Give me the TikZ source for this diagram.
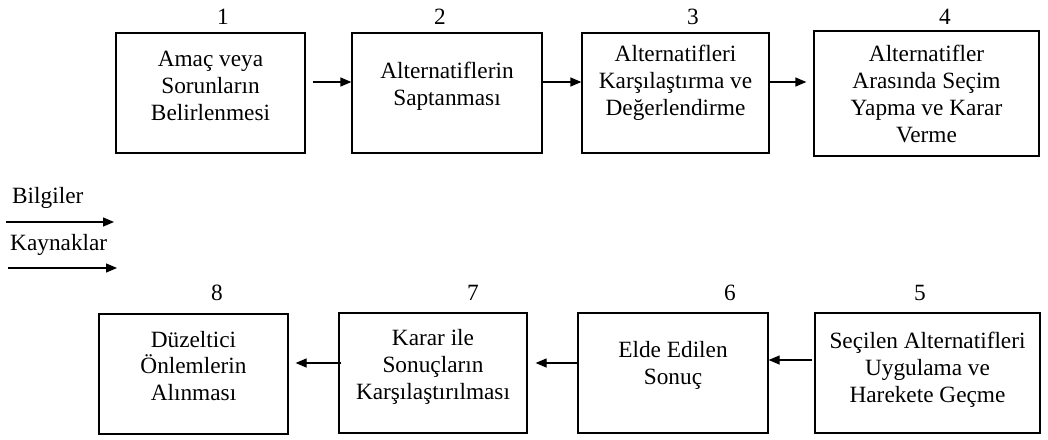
\documentclass[tikz,border=0pt]{standalone}
\usepackage{fontspec}
\setmainfont{Liberation Serif}
\usetikzlibrary{arrows.meta}
\begin{document}
\begin{tikzpicture}[x=1pt,y=-1pt,
  box/.style={draw, line width=1.3pt, inner sep=0pt, minimum height=120pt},
  txt/.style={align=center, inner sep=0pt, font=\fontsize{23.3}{26.8}\selectfont},
  num/.style={inner sep=0pt, font=\fontsize{23.3}{26.8}\selectfont},
  arr/.style={line width=1.3pt, -{Triangle[length=11pt,width=9pt]}}]
\useasboundingbox (0,0) rectangle (1048,439);

% top row: steps 1-4
\node[box, minimum width=189pt] (b1) at (210.5,93) {};
\node[box, minimum width=190pt] (b2) at (447,93) {};
\node[box, minimum width=187pt] (b3) at (675.5,93) {};
\node[box, minimum width=225pt, minimum height=125pt] (b4) at (926.5,93.5) {};

\node[txt] (t1) at (210.5,86) {Amaç veya\\Sorunların\\Belirlenmesi};
\node[txt] (t2) at (447,86) {Alternatiflerin\\Saptanması};
\node[txt] (t3) at (675.5,83) {Alternatifleri\\Karşılaştırma ve\\Değerlendirme};
\node[txt] (t4) at (926.5,94) {Alternatifler\\Arasında Seçim\\Yapma ve Karar\\Verme};

\node[num] (n1) at (223,17) {1};
\node[num] (n2) at (440,17) {2};
\node[num] (n3) at (693,17) {3};
\node[num] (n4) at (945,17) {4};

% bottom row: steps 5-8
\node[box, minimum width=189pt] (b8) at (193.5,374) {};
\node[box, minimum width=188pt] (b7) at (433,373) {};
\node[box, minimum width=190pt] (b6) at (673,373) {};
\node[box, minimum width=225pt] (b5) at (927.5,373) {};

\node[txt] (t8) at (193.5,366) {Düzeltici\\Önlemlerin\\Alınması};
\node[txt] (t7) at (433,367) {Karar ile\\Sonuçların\\Karşılaştırılması};
\node[txt] (t6) at (673,365) {Elde Edilen\\Sonuç};
\node[txt] (t5) at (927.5,369.5) {Seçilen Alternatifleri\\Uygulama ve\\Harekete Geçme};

\node[num] (n8) at (217,293) {8};
\node[num] (n7) at (473,293) {7};
\node[num] (n6) at (730,293) {6};
\node[num] (n5) at (920,293) {5};

% flow arrows
\draw[arr] ([shift={(7,-11)}]b1.east) -- ([shift={(0,-11)}]b2.west);
\draw[arr] ([shift={(0,-11)}]b2.east) -- ([shift={(0,-11)}]b3.west);
\draw[arr] ([shift={(-1,-11)}]b3.east) -- ([shift={(-7,-11.5)}]b4.west);
\draw[arr] ([shift={(-2,-13)}]b5.west) -- ([shift={(0,-13)}]b6.east);
\draw[arr] ([shift={(0,-10)}]b6.west) -- ([shift={(8,-10)}]b7.east);
\draw[arr] ([shift={(3,-10)}]b7.west) -- ([shift={(7,-11)}]b8.east);

% inputs on the left
\node[num, anchor=west] (lb) at (12,198) {Bilgiler};
\node[num, anchor=west] (lk) at (10,245) {Kaynaklar};
\coordinate (bs) at (6,222);
\coordinate (be) at (114,222);
\coordinate (ks) at (8,268);
\coordinate (ke) at (117,268);
\draw[arr] (bs) -- (be);
\draw[arr] (ks) -- (ke);
\end{tikzpicture}
\end{document}
